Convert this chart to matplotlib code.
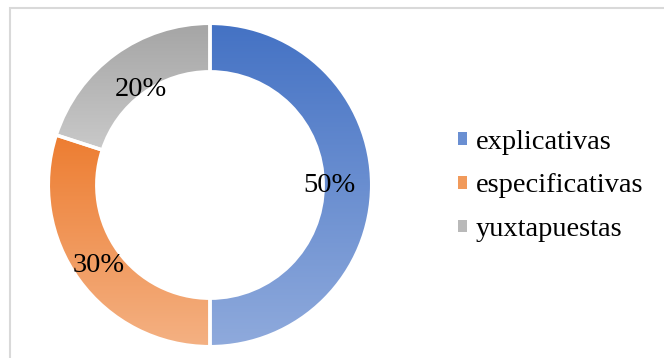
import numpy as np
import matplotlib.pyplot as plt
from matplotlib.colors import LinearSegmentedColormap
from matplotlib.patches import Patch, Rectangle

labels = ['explicativas', 'especificativas', 'yuxtapuestas']
values = [50, 30, 20]
top_colors = ['#4472C4', '#ED7D31', '#A5A5A5']
bottom_colors = ['#8FAADC', '#F4B183', '#C9C9C9']
legend_colors = ['#6A8FD2', '#F19A5B', '#B9B9B9']
label_radius = [0.74, 0.85, 0.73]

plt.rcParams['font.family'] = ['Liberation Serif', 'DejaVu Serif']

fig = plt.figure(figsize=(6.64, 3.58), dpi=100)
ax = fig.add_axes([40 / 664, 3 / 358, 340 / 664, 340 / 358])

wedges, _ = ax.pie(values, startangle=90, counterclock=False, radius=1,
                   wedgeprops=dict(width=0.30, edgecolor='white', linewidth=2.5))

# vertical gradient fill per slice, clipped to the wedge shape
grad = np.linspace(0, 1, 256).reshape(-1, 1)
for w, c0, c1 in zip(wedges, top_colors, bottom_colors):
    ext = w.get_path().get_extents()
    cmap = LinearSegmentedColormap.from_list('grad', [c0, c1])
    im = ax.imshow(grad, cmap=cmap, extent=(ext.x0, ext.x1, ext.y0, ext.y1),
                   origin='upper', aspect='auto', zorder=1)
    im.set_clip_path(w)
    w.set_facecolor('none')
    w.set_zorder(2)

for w, v, r in zip(wedges, values, label_radius):
    mid = np.deg2rad((w.theta1 + w.theta2) / 2)
    ax.text(r * np.cos(mid), r * np.sin(mid), f'{v}%', fontsize=20.5,
            ha='center', va='center', zorder=3)

lim = 170 / 161.7
ax.set_xlim(-lim, lim)
ax.set_ylim(-lim, lim)
ax.axis('off')

handles = [Patch(facecolor=c, edgecolor='none') for c in legend_colors]
fig.legend(handles, labels, loc='center left', bbox_to_anchor=(458 / 664, 172 / 358),
           frameon=False, fontsize=20.5, handlelength=0.3, handleheight=0.3,
           handletextpad=0.32, labelspacing=0.66, borderpad=0, borderaxespad=0)

# chart area border
fig.add_artist(Rectangle((9.5 / 664, -0.1), 1.2, 350 / 358 + 0.1,
                         transform=fig.transFigure, fill=False,
                         edgecolor='#d9d9d9', linewidth=1.5))

fig.savefig('out.png', dpi=100)
